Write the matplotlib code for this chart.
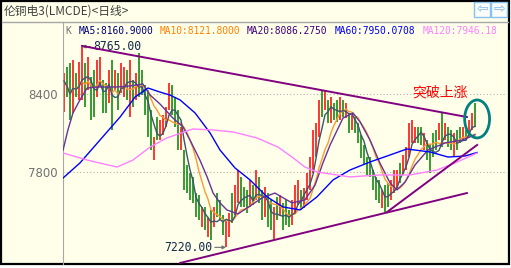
import numpy as np
import pandas as pd
import matplotlib
matplotlib.use("Agg")
import matplotlib.pyplot as plt
from matplotlib.patches import Ellipse, Rectangle

plt.rcParams['font.family'] = ['Noto Sans CJK SC', 'DejaVu Sans']

# daily bars: high / low / close, R = up day, G = down day
hi = [8562, 8608, 8638, 8662, 8562, 8646, 8765, 8638, 8685, 8531,
      8585, 8662, 8685, 8508, 8485, 8585, 8662, 8585, 8562, 8638,
      8608, 8585, 8662, 8508, 8562, 8715, 8585, 8469, 8431, 8277,
      8069, 8223, 8200, 8238, 8300, 8485, 8469, 8377, 8277, 8146,
      7969, 7854, 7792, 7762, 7638, 7623, 7531, 7531, 7454, 7508,
      7531, 7638, 7585, 7469, 7431, 7485, 7638, 7700, 7815, 7762,
      7685, 7662, 7739, 7700, 7815, 7762, 7662, 7685, 7638, 7585,
      7531, 7608, 7623, 7562, 7585, 7508, 7585, 7700, 7739, 7662,
      7677, 7792, 7915, 8123, 8177, 8354, 8431, 8431, 8354, 8377,
      8331, 8354, 8377, 8354, 8331, 8254, 8238, 8223, 8177, 8085,
      8008, 7915, 7915, 7815, 7762, 7739, 7662, 7700, 7715, 7739,
      7815, 7815, 7869, 7931, 7992, 8177, 8200, 8146, 8146, 8146,
      8100, 8046, 8008, 8100, 8123, 8177, 8254, 8177, 8146, 8123,
      8100, 8123, 8146, 8146, 8123, 8200, 8254, 8331]
lo = [8262, 8377, 8200, 8254, 8377, 8354, 8354, 8300, 8431, 8200,
      8223, 8377, 8454, 8254, 8254, 8331, 8123, 8431, 8277, 8408,
      8377, 8354, 8223, 8300, 8354, 8377, 8392, 8238, 8069, 7969,
      7892, 8046, 8046, 8085, 8146, 8277, 8238, 8146, 7969, 7969,
      7662, 7638, 7585, 7562, 7454, 7431, 7377, 7354, 7300, 7277,
      7377, 7454, 7431, 7315, 7220, 7300, 7408, 7469, 7562, 7531,
      7531, 7485, 7531, 7546, 7585, 7562, 7431, 7454, 7377, 7354,
      7277, 7431, 7469, 7354, 7392, 7377, 7392, 7485, 7546, 7508,
      7523, 7585, 7662, 7792, 7915, 8069, 8223, 8277, 8177, 8177,
      8200, 8185, 8200, 8223, 8215, 8100, 8123, 8100, 8023, 7908,
      7854, 7777, 7762, 7662, 7585, 7562, 7523, 7492, 7531, 7585,
      7638, 7662, 7715, 7777, 7815, 7915, 8023, 8023, 8023, 8008,
      7969, 7892, 7792, 7915, 7969, 8046, 7992, 8046, 7992, 7969,
      7915, 7969, 8023, 8046, 8046, 8062, 8123, 8146]
cls = [8500, 8420, 8280, 8580, 8400, 8600, 8680, 8350, 8640, 8250,
       8280, 8620, 8650, 8290, 8280, 8540, 8200, 8560, 8310, 8600,
       8570, 8390, 8600, 8330, 8520, 8420, 8420, 8270, 8100, 8000,
       8040, 8070, 8170, 8210, 8280, 8450, 8270, 8170, 8000, 8110,
       7700, 7660, 7610, 7580, 7480, 7460, 7500, 7380, 7430, 7300,
       7500, 7480, 7460, 7340, 7400, 7460, 7440, 7660, 7780, 7560,
       7550, 7510, 7700, 7570, 7780, 7580, 7460, 7650, 7410, 7380,
       7480, 7460, 7600, 7380, 7420, 7400, 7560, 7670, 7710, 7530,
       7650, 7760, 7880, 8080, 8150, 8320, 8250, 8400, 8200, 8340,
       8220, 8210, 8350, 8240, 8310, 8120, 8220, 8120, 8040, 7930,
       7870, 7790, 7780, 7680, 7600, 7710, 7540, 7510, 7690, 7720,
       7790, 7680, 7850, 7910, 7970, 8150, 8180, 8040, 8040, 8120,
       7990, 7910, 7820, 7940, 8100, 8060, 8220, 8060, 8010, 8100,
       7940, 7990, 8120, 8060, 8110, 8180, 8240, 8160]
updown = ("RGGRGRRGRGGRRGGRGRGRRGRGRGGGGGRGRRRRGGGR"
          "GGGGGGRGRGRGGGRRGRRGGGRGRGGRGGRGRGGGRRRG"
          "RRRRRRGRGRGGRGRGRGGGGGGGGGRGGRRRGRRRRRGG"
          "RGGGGRGRGGRGGRGRRG")

# longer averages at sample bars
ma20_x = [-0.3, 1.3, 3, 5.3, 7.7, 11, 17.7, 22, 26.3, 28.7, 32, 36.3, 39.7, 42,
          45.3, 47.7, 49.7, 52, 54.3, 58, 62, 66, 70.3, 76, 80.3, 83.7, 86.3,
          88.7, 93, 96.3, 98.7, 102, 105.3, 108.7, 111, 113.7, 117, 121.3, 127,
          132.7, 137]
ma20_y = [7969, 8123, 8254, 8354, 8446, 8454, 8454, 8462, 8477, 8392, 8323,
          8215, 8146, 8046, 7892, 7762, 7638, 7562, 7508, 7477, 7538, 7600,
          7638, 7562, 7585, 7700, 7869, 8008, 8215, 8254, 8185, 8046, 7869,
          7715, 7662, 7723, 7854, 7969, 8023, 8046, 8086]
ma60_x = [-0.3, 5.3, 12, 18.7, 23.7, 28, 32, 35.3, 38.7, 43.7, 48.7, 52, 57,
          62, 67.7, 73, 78.7, 84.3, 89.7, 95.3, 102, 108.7, 114.3, 122, 128,
          133.7, 137.7]
ma60_y = [7754, 7869, 8046, 8223, 8377, 8446, 8415, 8392, 8354, 8254, 8100,
          7969, 7831, 7739, 7608, 7531, 7508, 7608, 7739, 7815, 7877, 7931,
          7977, 7954, 7915, 7923, 7950]
ma120_x = [-0.3, 7.7, 17.7, 23, 28.7, 34.3, 43, 49.7, 56.3, 64.3, 71.3, 76,
           80.3, 84.3, 95.3, 105.3, 115.3, 124.3, 130.3, 137.7]
ma120_y = [7946, 7892, 7838, 7892, 7992, 8062, 8131, 8123, 8108, 8062, 7992,
           7915, 7838, 7800, 7762, 7777, 7777, 7815, 7869, 7946]

# hand drawn trend lines (bar, price)
res_line = ([6, 134.3], [8770, 8223])
sup_line = ([38.7, 134.3], [7100, 7638])
steep_line = ([107.7, 137.7], [7492, 8008])

legend = [("MA5:8160.9000", "#000080", 79), ("MA10:8121.8000", "#ff8000", 160),
          ("MA20:8086.2750", "#40007f", 247), ("MA60:7950.0708", "#0000ff", 335),
          ("MA120:7946.18", "#ff80ff", 423)]

BG = "#ffffea"
W, H = 511, 268
fig = plt.figure(figsize=(W / 100, H / 100), dpi=100, facecolor="white")

# frame / header drawn in pixel space
bg = fig.add_axes([0, 0, 1, 1])
bg.set_xlim(0, W)
bg.set_ylim(H, 0)
bg.axis("off")
bg.add_patch(Rectangle((1, 1), 508, 263, facecolor=BG, edgecolor="black", lw=1.6, zorder=0))
bg.plot([2, 508], [22, 22], color="#a8a8a8", lw=1)
bg.text(4, 11.5, "伦铜电3(LMCDE)<日线>", fontsize=8.5, color="#404040", va="center")
for bx, arrow in [(474, "⇦"), (491, "⇨")]:
    bg.add_patch(Rectangle((bx, 2), 16, 15, facecolor="#fbfdf8", edgecolor="#88c0f0", lw=1))
    bg.text(bx + 8, 9.5, arrow, family="DejaVu Sans", fontsize=10, color="#80b8f0",
            ha="center", va="center")
bg.text(65, 31, "K", family="DejaVu Sans Mono", fontsize=7, color="#707070", va="center")
for txt, col, px in legend:
    bg.text(px, 31, txt, family="DejaVu Sans Mono", fontsize=6.9, color=col, va="center")

# chart area
ax = fig.add_axes([63 / W, 4 / H, 443 / W, 242 / H])
ax.set_facecolor("none")
ax.set_xlim(-0.33, 147.33)
ax.set_ylim(7092, 8954)
for s in ["top", "right", "bottom"]:
    ax.spines[s].set_visible(False)
ax.spines["left"].set_color("#a8a8a8")
ax.set_xticks([])
ax.set_yticks([7800, 8400])
ax.set_yticklabels(["7800", "8400"], family="DejaVu Sans", fontsize=8.5, color="#707070")
ax.tick_params(axis="y", length=0, pad=4)
for v in [7800, 8400]:
    ax.axhline(v, color="#b0b0b0", lw=0.8, ls=(0, (1, 2)), zorder=1)

x = np.arange(len(hi))
colors = ["#ff0000" if c == "R" else "#008000" for c in updown]
ax.vlines(x, lo, hi, colors=colors, lw=1.1, zorder=2)

close = pd.Series(cls)
ax.plot(x, close.rolling(10, min_periods=1).mean(), color="#ff9933", lw=1, zorder=3)
ax.plot(x, close.rolling(5, min_periods=1).mean(), color="#3a5670", lw=1, zorder=3)
ax.plot(ma20_x, ma20_y, color="#663399", lw=1, zorder=3)
ax.plot(ma60_x, ma60_y, color="#0000ff", lw=1, zorder=3)
ax.plot(ma120_x, ma120_y, color="#ff80ff", lw=1, zorder=3)

for ln in [res_line, sup_line, steep_line]:
    ax.plot(ln[0], ln[1], color="#800080", lw=1.4, zorder=4)

ax.add_patch(Ellipse((137.7, 8208), 8.3, 292, fill=False, edgecolor="#008080", lw=2, zorder=5))
ax.text(116, 8415, "突破上涨", fontsize=10, color="#ff0000", va="center")

# extreme marks
ax.annotate("8765.00", xy=(6, 8765), xytext=(11, 0), textcoords="offset pixels",
            family="DejaVu Sans Mono", fontsize=8.3, color="#10284a", va="center",
            arrowprops=dict(arrowstyle="-|>", color="#707070", lw=0.8,
                            shrinkA=0, shrinkB=0, mutation_scale=5))
ax.annotate("7220.00", xy=(54, 7220), xytext=(-14, 0), textcoords="offset pixels",
            family="DejaVu Sans Mono", fontsize=8.3, color="#10284a", va="center", ha="right",
            arrowprops=dict(arrowstyle="-|>", color="#707070", lw=0.8,
                            shrinkA=0, shrinkB=0, mutation_scale=5))

fig.savefig("out.png", dpi=100, facecolor="white")
